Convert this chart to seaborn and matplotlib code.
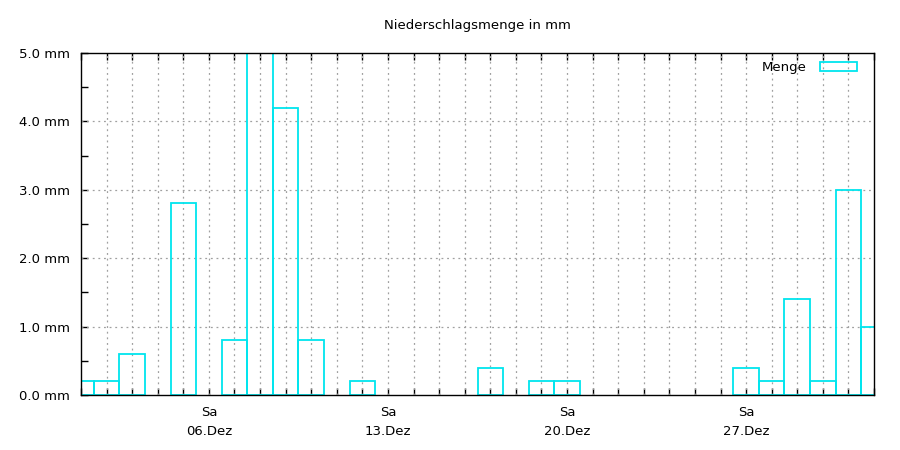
import numpy as np
import pandas as pd
import matplotlib
matplotlib.use("Agg")
import matplotlib.pyplot as plt
import matplotlib.dates as mdates
import seaborn as sns

# ---- data ----
dates = ["2025-12-01", "2025-12-02", "2025-12-03", "2025-12-05", "2025-12-07",
         "2025-12-08", "2025-12-09", "2025-12-10", "2025-12-12", "2025-12-17",
         "2025-12-19", "2025-12-20", "2025-12-27", "2025-12-28", "2025-12-29",
         "2025-12-30", "2025-12-31", "2026-01-01"]
menge = [0.2, 0.2, 0.6, 2.8, 0.8, 5.6, 4.2, 0.8, 0.2, 0.4,
         0.2, 0.2, 0.4, 0.2, 1.4, 0.2, 3.0, 1.0]
tick_dates = ["2025-12-06", "2025-12-13", "2025-12-20", "2025-12-27"]
tick_labels = ["Sa\n06.Dez", "Sa\n13.Dez", "Sa\n20.Dez", "Sa\n27.Dez"]
y_ticks = [0, 1, 2, 3, 4, 5]
y_labels = ["0.0 mm", "1.0 mm", "2.0 mm", "3.0 mm", "4.0 mm", "5.0 mm"]
x_start, x_end = "2025-12-01", "2026-01-01"
title = "Niederschlagsmenge in mm"
series_name = "Menge"

df = pd.DataFrame({"x": mdates.date2num(pd.to_datetime(dates)), "Menge": menge})

sns.set_style("white")
plt.rcParams["font.family"] = ["DejaVu Sans"]
plt.rcParams["text.color"] = "black"
plt.rcParams["xtick.color"] = "black"
plt.rcParams["ytick.color"] = "black"
fig = plt.figure(figsize=(9, 4.5), dpi=100)
ax = fig.add_axes([81/900, 55/450, (874-81)/900, (395-53)/450])

cyan = "#00e5ee"
sns.barplot(data=df, x="x", y="Menge", native_scale=True, width=1.0,
            fill=False, color=cyan, linewidth=1.3, errorbar=None,
            label=series_name, ax=ax, zorder=3)

x0 = mdates.date2num(pd.Timestamp(x_start))
x1 = mdates.date2num(pd.Timestamp(x_end))
ax.set_xlim(x0, x1)
ax.set_ylim(0, 5)

# x ticks
ax.set_xticks(mdates.date2num(pd.to_datetime(tick_dates)))
ax.set_xticklabels(tick_labels, fontsize=9.5, linespacing=1.6, color="black")
ax.set_xticks(np.arange(x0, x1 + 0.5, 1.0), minor=True)
ax.set_yticks(y_ticks)
ax.set_yticklabels(y_labels, fontsize=9.5, color="black")
ax.set_yticks(np.arange(0.5, 5, 1.0), minor=True)

ax.tick_params(axis="x", which="both", direction="in", top=True, bottom=True,
               length=5, width=1, pad=8, color="black")
ax.tick_params(axis="y", which="both", direction="in", left=True, right=False,
               length=5, width=1, pad=8, color="black")

grid_kw = dict(color="#a0a0a0", linestyle=(0, (1.5, 3)), linewidth=0.9, zorder=1)
for xv in np.arange(x0 + 1, x1, 1.0):
    ax.axvline(xv, **grid_kw)
for yv in y_ticks[1:-1]:
    ax.axhline(yv, **grid_kw)

ax.set_xlabel("")
ax.set_ylabel("")
for s in ax.spines.values():
    s.set_visible(True)
    s.set_color("black")
    s.set_linewidth(1.0)
    s.set_zorder(4)

fig.text((81+874)/2/900, 1 - 26/450, title, ha="center", va="center",
         fontsize=9.5, color="black")

leg = ax.legend(loc="upper right", bbox_to_anchor=(857/900, 1 - 61/450),
                bbox_transform=fig.transFigure, frameon=False, markerfirst=False,
                fontsize=9.5, handlelength=2.8, handleheight=0.6, handletextpad=1.0,
                borderpad=0, borderaxespad=0, labelcolor="black")

fig.savefig("out.png", dpi=100)
